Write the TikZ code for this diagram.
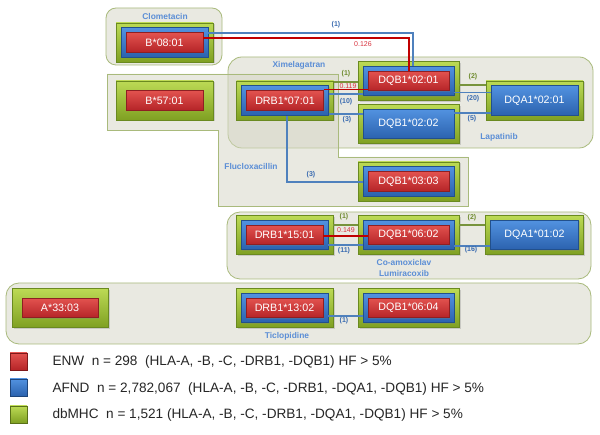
\documentclass[tikz,border=0pt]{standalone}
\usepackage{fontspec}
\setmainfont{Liberation Sans}
\usetikzlibrary{shadows}
\definecolor{regfill}{HTML}{D4D5C4}
\definecolor{regborder}{HTML}{A9BA7C}
\definecolor{gtop}{HTML}{BCDA55}
\definecolor{gbot}{HTML}{7FA022}
\definecolor{gborder}{HTML}{6A8A20}
\definecolor{btop}{HTML}{5292E0}
\definecolor{bbot}{HTML}{2B62AE}
\definecolor{bborder}{HTML}{22508C}
\definecolor{rtop}{HTML}{E2524F}
\definecolor{rbot}{HTML}{B52427}
\definecolor{rborder}{HTML}{8E1F22}
\definecolor{titleblue}{HTML}{5B8ED6}
\definecolor{lblblue}{HTML}{3A6BB0}
\definecolor{lblgreen}{HTML}{6E8B2E}
\definecolor{lblred}{HTML}{D9333F}
\definecolor{lineblue}{HTML}{4F81BD}
\definecolor{linered}{HTML}{C00000}
\definecolor{linegreen}{HTML}{77933C}
\newcommand{\alleleGBR}[4]{%
  \node[gbox, minimum width=#3pt] (g#1) at (#2) {};
  \node[bbox, minimum width=#3pt-10pt] (b#1) at (#2) {};
  \node[rbox, minimum width=#3pt-20pt] (r#1) at (#2) {#4};}
\newcommand{\alleleGB}[4]{%
  \node[gbox, minimum width=#3pt] (g#1) at (#2) {};
  \node[bbox, minimum width=#3pt-10pt, text=white, font=\fontsize{10.7}{12}\selectfont] (b#1) at (#2) {#4};}
\newcommand{\alleleGR}[4]{%
  \node[gbox, minimum width=#3pt] (g#1) at (#2) {};
  \node[rbox, minimum width=#3pt-20pt] (r#1) at (#2) {#4};}
\begin{document}
\begin{tikzpicture}[x=1pt,y=-1pt,
  region/.style={draw=regborder, line width=0.8pt, fill=regfill, fill opacity=0.5, rounded corners=12pt},
  gbox/.style={draw=gborder, line width=0.6pt, top color=gtop, bottom color=gbot, minimum height=39pt, inner sep=0pt,
     drop shadow={shadow xshift=1.5pt, shadow yshift=-1.5pt, opacity=0.3}},
  bbox/.style={draw=bborder, line width=0.6pt, top color=btop, bottom color=bbot, minimum height=29.5pt, inner sep=0pt,
     drop shadow={shadow xshift=1pt, shadow yshift=-1pt, opacity=0.3}},
  rbox/.style={draw=rborder, line width=0.5pt, top color=rtop, bottom color=rbot, minimum height=19.5pt, inner sep=0pt,
     text=white, font=\fontsize{10.7}{12}\selectfont,
     drop shadow={shadow xshift=1pt, shadow yshift=-1pt, opacity=0.3}},
  title/.style={text=titleblue, font=\bfseries\fontsize{8.4}{10}\selectfont},
  lblb/.style={text=lblblue, font=\bfseries\fontsize{7}{8}\selectfont},
  lblg/.style={text=lblgreen, font=\bfseries\fontsize{7}{8}\selectfont},
  lblr/.style={text=lblred, font=\fontsize{7}{8}\selectfont},
  bline/.style={draw=lineblue, line width=1.2pt},
  rline/.style={draw=linered, line width=1.6pt},
  gline/.style={draw=linegreen, line width=1.3pt},
  lsq/.style={draw=#1!70!black, line width=0.4pt, minimum width=17pt, minimum height=17pt, inner sep=0pt,
     drop shadow={shadow xshift=1pt, shadow yshift=-1pt, opacity=0.3}},
  legtext/.style={anchor=west, font=\fontsize{13.6}{16}\selectfont, text=black!85}
]
\useasboundingbox (0,0) rectangle (600,435);
\fill[white] (0,0) rectangle (600,435);

% regions
\draw[region, rounded corners=10pt] (106,8) rectangle (222,65);
\draw[region, rounded corners=14pt] (228,57) rectangle (593,148);
\draw[region, rounded corners=0pt] (107,74) -- (338,74) -- (338,157) -- (468,157) -- (468,206) -- (218,206) -- (218,130) -- (107,130) -- cycle;
\draw[region, rounded corners=13pt] (227,212) rectangle (591,279);
\draw[region, rounded corners=13pt] (6,283) rectangle (591,344);

% titles
\node[title] (tClo) at (165,17) {Clometacin};
\node[title] (tXim) at (299,65) {Ximelagatran};
\node[title] (tLap) at (499,137) {Lapatinib};
\node[title] (tFlu) at (251,167) {Flucloxacillin};
\node[title] (tCoa) at (404,262) {Co-amoxiclav};
\node[title] (tLum) at (404,273) {Lumiracoxib};
\node[title] (tTic) at (287,336) {Ticlopidine};

% allele boxes
\alleleGBR{0801}{164.5,42.5}{97}{B*08:01}
\alleleGR{5701}{164.5,100.5}{97}{B*57:01}
\alleleGBR{0701}{285,100.5}{97}{DRB1*07:01}
\alleleGBR{0201}{408.5,81}{101}{DQB1*02:01}
\alleleGB{0202}{408.5,124}{101}{DQB1*02:02}
\alleleGB{A0201}{534.5,100.5}{97}{DQA1*02:01}
\alleleGBR{0303}{408.5,181.5}{101}{DQB1*03:03}
\alleleGBR{1501}{284.5,235}{97}{DRB1*15:01}
\alleleGBR{0602}{408.5,235}{101}{DQB1*06:02}
\alleleGB{A0102}{534.5,235}{98}{DQA1*01:02}
\alleleGR{3303}{60,308}{96}{A*33:03}
\alleleGBR{1302}{284.5,308}{97}{DRB1*13:02}
\alleleGBR{0604}{408.5,308}{101}{DQB1*06:04}

% connectors: Clometacin
\coordinate (c1) at (413,33);
\coordinate (c2) at (409,38);
\draw[bline] (b0801.east |- c1) -- (c1) -- (c1 |- b0201.north);
\draw[rline] (r0801.east |- c2) -- (c2) -- (c2 |- r0201.north);
\node[lblb] (l1) at (336,25) {(1)};
\node[lblr] (l2) at (363,44) {0.126};

% Ximelagatran / Lapatinib
\coordinate (y82) at (0,82);
\coordinate (y89) at (0,89.5);
\coordinate (y94) at (0,94);
\coordinate (y114) at (0,114);
\coordinate (y85) at (0,85);
\coordinate (y93) at (0,92.5);
\coordinate (y113) at (0,113);
\draw[gline] (g0701.east |- y82) -- (g0201.west |- y82);
\draw[rline] (r0701.east |- y89) -- (r0201.west |- y89);
\draw[bline] (b0701.east |- y94) -- (b0201.west |- y94);
\draw[bline] (b0701.east |- y114) -- (b0202.west |- y114);
\draw[gline] (g0201.east |- y85) -- (gA0201.west |- y85);
\draw[bline] (b0201.east |- y93) -- (bA0201.west |- y93);
\draw[bline] (b0202.east |- y113) -- (bA0201.west |- y113);
\node[lblg] (l3) at (346,74) {(1)};
\node[lblr] (l4) at (348,86) {0.119};
\node[lblb] (l5) at (346,102) {(10)};
\node[lblb] (l6) at (347,120) {(3)};
\node[lblg] (l7) at (473,77) {(2)};
\node[lblb] (l8) at (473,99) {(20)};
\node[lblb] (l9) at (472,119) {(5)};

% Flucloxacillin
\coordinate (c10) at (287,182);
\draw[bline] (b0701.south -| c10) -- (c10) -- (b0303.west |- c10);
\node[lblb] (l10) at (311,175) {(3)};

% Co-amoxiclav / Lumiracoxib
\coordinate (y225) at (0,225);
\coordinate (y236) at (0,236);
\coordinate (y245) at (0,245);
\coordinate (y246) at (0,246);
\draw[gline] (g1501.east |- y225) -- (g0602.west |- y225);
\draw[rline] (r1501.east |- y236) -- (r0602.west |- y236);
\draw[bline] (b1501.east |- y245) -- (b0602.west |- y245);
\draw[gline] (g0602.east |- y225) -- (gA0102.west |- y225);
\draw[bline] (b0602.east |- y246) -- (bA0102.west |- y246);
\node[lblg] (l11) at (344,217) {(1)};
\node[lblr] (l12) at (346,230) {0.149};
\node[lblb] (l13) at (344,251) {(11)};
\node[lblg] (l14) at (472,218) {(2)};
\node[lblb] (l15) at (471,250) {(16)};

% Ticlopidine
\coordinate (y316) at (0,316);
\draw[bline] (b1302.east |- y316) -- (b0604.west |- y316);
\node[lblb] (l16) at (344,321) {(1)};

% legend
\node[lsq=rbot, top color=rtop, bottom color=rbot] (sqr) at (18.5,361.5) {};
\node[lsq=bbot, top color=btop, bottom color=bbot] (sqb) at (18.5,387.5) {};
\node[lsq=gbot, top color=gtop, bottom color=gbot] (sqg) at (18.5,414.5) {};
\node[legtext] (tr) at (49,362) {ENW\ \ n = 298\ \ (HLA-A, -B, -C, -DRB1, -DQB1) HF > 5\%};
\node[legtext] (tb) at (49,389) {AFND\ \ n = 2,782,067\ \ (HLA-A, -B, -C, -DRB1, -DQA1, -DQB1) HF > 5\%};
\node[legtext] (tg) at (49,415) {dbMHC\ \ n = 1,521 (HLA-A, -B, -C, -DRB1, -DQA1, -DQB1) HF > 5\%};
\end{tikzpicture}
\end{document}
